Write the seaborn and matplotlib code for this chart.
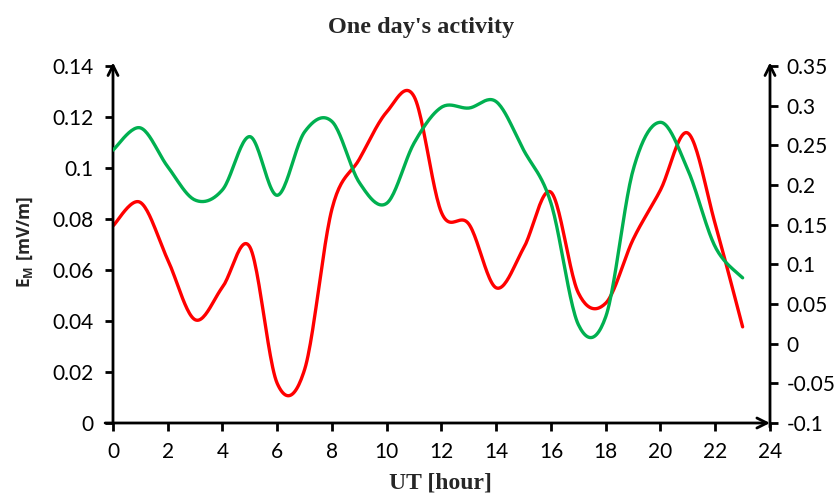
import numpy as np
import pandas as pd
import seaborn as sns
import matplotlib
matplotlib.use("Agg")
import matplotlib.pyplot as plt
from matplotlib.ticker import FuncFormatter, MultipleLocator

# ---- data (hourly values) ----
hours = list(range(24))
em_values = [0.0773, 0.0865, 0.0640, 0.0405, 0.0533, 0.0690, 0.0155, 0.0210,
             0.0840, 0.1035, 0.1220, 0.1280, 0.0825, 0.0780, 0.0530, 0.0686,
             0.0905, 0.0510, 0.0470, 0.0720, 0.0914, 0.1137, 0.0780, 0.0377]
right_values = [0.244, 0.272, 0.223, 0.181, 0.194, 0.261, 0.187, 0.267,
                0.280, 0.203, 0.177, 0.253, 0.298, 0.297, 0.305, 0.244,
                0.177, 0.024, 0.034, 0.219, 0.279, 0.219, 0.122, 0.083]
x_ticks = list(range(0, 25, 2))
title = "One day's activity"
x_label = "UT [hour]"


def smooth(x, y, n=24):
    """Catmull-Rom curve through the points (Excel-like 'smoothed line')."""
    x = np.asarray(x, float)
    y = np.asarray(y, float)
    px = np.concatenate([[x[0]], x, [x[-1]]])
    py = np.concatenate([[y[0]], y, [y[-1]]])
    xs, ys = [], []
    t = np.linspace(0, 1, n, endpoint=False)
    for i in range(1, len(px) - 2):
        for arr, out in ((px, xs), (py, ys)):
            p0, p1, p2, p3 = arr[i - 1], arr[i], arr[i + 1], arr[i + 2]
            out.extend(0.5 * (2 * p1 + (-p0 + p2) * t
                              + (2 * p0 - 5 * p1 + 4 * p2 - p3) * t ** 2
                              + (-p0 + 3 * p1 - 3 * p2 + p3) * t ** 3))
    xs.append(x[-1])
    ys.append(y[-1])
    return pd.DataFrame({"x": xs, "y": ys})


sns.set_theme(style="white")
plt.rcParams["font.family"] = ["Lato", "DejaVu Sans"]
plt.rcParams["mathtext.fontset"] = "custom"
plt.rcParams["mathtext.bf"] = "Open Sans:bold"
plt.rcParams["mathtext.rm"] = "Open Sans"

W, H = 837, 495
fig = plt.figure(figsize=(W / 100, H / 100), dpi=100)
left, right, top, bottom = 113, 770, 66, 423
ax = fig.add_axes([left / W, 1 - bottom / H, (right - left) / W, (bottom - top) / H])
ax2 = ax.twinx()

red_df = smooth(hours, em_values)
green_df = smooth(hours, right_values)
sns.lineplot(data=red_df, x="x", y="y", ax=ax, color="#FF0000", lw=2.4,
             sort=False, estimator=None)
sns.lineplot(data=green_df, x="x", y="y", ax=ax2, color="#00B050", lw=2.4,
             sort=False, estimator=None)

ax.set_xlim(0, 24)
ax.set_ylim(0, 0.14)
ax2.set_ylim(-0.1, 0.35)
ax.set_xticks(x_ticks)
ax.yaxis.set_major_locator(MultipleLocator(0.02))
ax2.yaxis.set_major_locator(MultipleLocator(0.05))
fmt = FuncFormatter(lambda v, p: "%g" % round(v, 4))
ax.yaxis.set_major_formatter(fmt)
ax2.yaxis.set_major_formatter(fmt)
ax.set_xlabel("")
ax.set_ylabel("")
ax2.set_ylabel("")

for a in (ax, ax2):
    for s in a.spines.values():
        s.set_visible(False)
    a.patch.set_visible(False)

ax.tick_params(axis="y", left=True, direction="out", length=6, width=2,
               color="black", labelsize=15, pad=8, labelcolor="black")
ax.tick_params(axis="x", bottom=True, direction="out", length=6, width=2,
               color="black", labelsize=15, pad=8, labelcolor="black")
ax2.tick_params(axis="y", right=True, left=False, direction="out", length=6,
                width=2, color="black", labelsize=15, pad=6, labelcolor="black")

arrow = dict(arrowstyle="->", lw=2, color="black", mutation_scale=18,
             shrinkA=0, shrinkB=0)
ax.annotate("", xy=(0, 1.01), xytext=(0, 0), xycoords="axes fraction",
            arrowprops=arrow, annotation_clip=False)
ax.annotate("", xy=(1.0, 0), xytext=(-0.012, 0), xycoords="axes fraction",
            arrowprops=arrow, annotation_clip=False)
ax.annotate("", xy=(1.0, 1.01), xytext=(1.0, -0.012), xycoords="axes fraction",
            arrowprops=arrow, annotation_clip=False)

fig.text(421 / W, 1 - 28 / H, title, ha="center", va="center",
         fontfamily="Liberation Serif", fontweight="bold", fontsize=17.5)
fig.text(440 / W, 1 - 483 / H, x_label, ha="center", va="center",
         fontfamily="Liberation Serif", fontweight="bold", fontsize=17)
fig.text(25 / W, 1 - 242 / H, r"$\mathbf{E_M\ [mV/m]}$", ha="center",
         va="center", rotation=90, fontsize=12.5)

fig.savefig("out.png", dpi=100, facecolor="white")
